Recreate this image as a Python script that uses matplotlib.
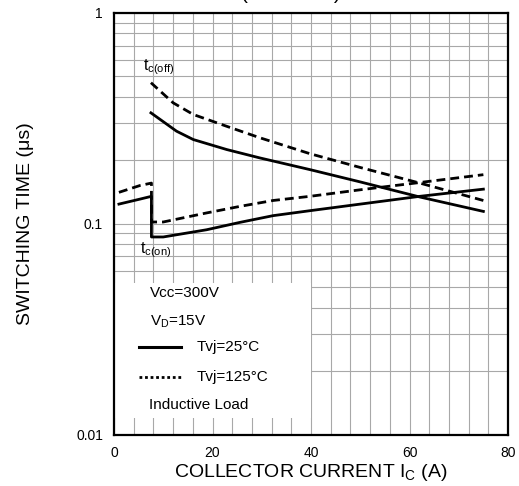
import matplotlib
matplotlib.use("Agg")
import matplotlib.pyplot as plt
from matplotlib.ticker import MultipleLocator, FixedLocator, LogLocator, NullFormatter
from matplotlib.patches import Rectangle
from matplotlib.lines import Line2D

plt.rcParams['font.family'] = ['Liberation Sans', 'DejaVu Sans']
plt.rcParams['mathtext.fontset'] = 'custom'
plt.rcParams['mathtext.rm'] = 'Liberation Sans'
plt.rcParams['mathtext.it'] = 'Liberation Sans:italic'

# Data (collector current in A, switching time in us)
ic_off = [7.5, 12.7, 16.1, 22.9, 29.6, 39.8, 50.0, 62.1, 75.0]
toff_25 = [0.336, 0.275, 0.251, 0.225, 0.2054, 0.1807, 0.158, 0.134, 0.1145]
ic_off_125 = [7.5, 12.0, 16.1, 22.9, 29.6, 39.8, 50.0, 62.1, 75.0]
toff_125 = [0.467, 0.375, 0.330, 0.290, 0.256, 0.215, 0.185, 0.156, 0.129]

ic_on = [1.0, 5.3, 7.6, 7.6, 10.0, 18.8, 25.6, 32.3, 39.8, 50.0, 62.1, 75.0]
ton_25 = [0.124, 0.131, 0.135, 0.0866, 0.0866, 0.0937, 0.1016, 0.1093, 0.1154, 0.124, 0.135, 0.146]
ic_on_125 = [1.0, 5.3, 7.6, 7.6, 10.0, 18.8, 25.6, 32.3, 39.8, 50.0, 62.1, 75.0]
ton_125 = [0.141, 0.152, 0.156, 0.102, 0.102, 0.1126, 0.121, 0.129, 0.135, 0.145, 0.157, 0.171]

x_ticks = [0, 20, 40, 60, 80]
y_ticks = [0.01, 0.1, 1]
y_tick_labels = ['0.01', '0.1', '1']

fig = plt.figure(figsize=(5.19, 4.86), dpi=100)
ax = fig.add_axes([114/519, 1-434.6/486, 394/519, 421.6/486])

ax.set_yscale('log')
ax.set_xlim(0, 80)
ax.set_ylim(0.01, 1)

ax.xaxis.set_major_locator(FixedLocator(x_ticks))
ax.xaxis.set_minor_locator(MultipleLocator(4))
ax.yaxis.set_major_locator(FixedLocator(y_ticks))
ax.set_yticklabels(y_tick_labels)
ax.yaxis.set_minor_locator(LogLocator(base=10, subs=range(2, 10)))
ax.yaxis.set_minor_formatter(NullFormatter())
ax.tick_params(which='both', length=0, labelsize=10, pad=8)
ax.grid(True, which='both', color='#a8a8a8', lw=0.8)
ax.set_axisbelow(True)
for s in ax.spines.values():
    s.set_linewidth(1.6)

lw = 2.0
ax.plot(ic_off, toff_25, color='black', lw=lw, zorder=3)
ax.plot(ic_off_125, toff_125, color='black', lw=lw, ls=(0, (3.2, 1.8)), zorder=3)
ax.plot(ic_on, ton_25, color='black', lw=lw, zorder=3)
ax.plot(ic_on_125, ton_125, color='black', lw=lw, ls=(0, (3.2, 1.8)), zorder=3)

# curve labels
ax.text((143-114)/394, (434.6-67)/421.6, r'$\mathregular{t_{c(off)}}$', transform=ax.transAxes,
        fontsize=11.5, ha='left', va='center', zorder=4)
ax.text((140-114)/394, (434.6-250)/421.6, r'$\mathregular{t_{c(on)}}$', transform=ax.transAxes,
        fontsize=11.5, ha='left', va='center', zorder=4)

# legend box
ax.add_patch(Rectangle((0, 0.039), 0.5, 0.321, transform=ax.transAxes,
                       facecolor='white', edgecolor='none', zorder=2))
fs = 11
ax.text(0.0914, 0.336, 'Vcc=300V', transform=ax.transAxes, fontsize=fs, va='center', zorder=4)
ax.text(0.0914, 0.268, r'$\mathregular{V_D}$=15V', transform=ax.transAxes, fontsize=fs, va='center', zorder=4)
ax.add_line(Line2D([0.0635, 0.170], [0.2085, 0.2085], transform=ax.transAxes, color='black', lw=2.2, zorder=4))
ax.text(0.2107, 0.2085, 'Tvj=25°C', transform=ax.transAxes, fontsize=fs, va='center', zorder=4)
ax.add_line(Line2D([0.0635, 0.170], [0.137, 0.137], transform=ax.transAxes, color='black', lw=2.0,
                   ls=(0, (1, 1)), zorder=4))
ax.text(0.2107, 0.137, 'Tvj=125°C', transform=ax.transAxes, fontsize=fs, va='center', zorder=4)
ax.text(0.0888, 0.070, 'Inductive Load', transform=ax.transAxes, fontsize=fs, va='center', zorder=4)

ax.set_xlabel(r'COLLECTOR CURRENT $\mathregular{I_C}$ (A)', fontsize=14, labelpad=2)
ax.set_ylabel('SWITCHING TIME (μs)', fontsize=14, labelpad=30)

fig.text(291/519, 1 + 1/486, '(TYPICAL)', fontsize=15, ha='center', va='baseline')

fig.savefig('out.png', dpi=100)
